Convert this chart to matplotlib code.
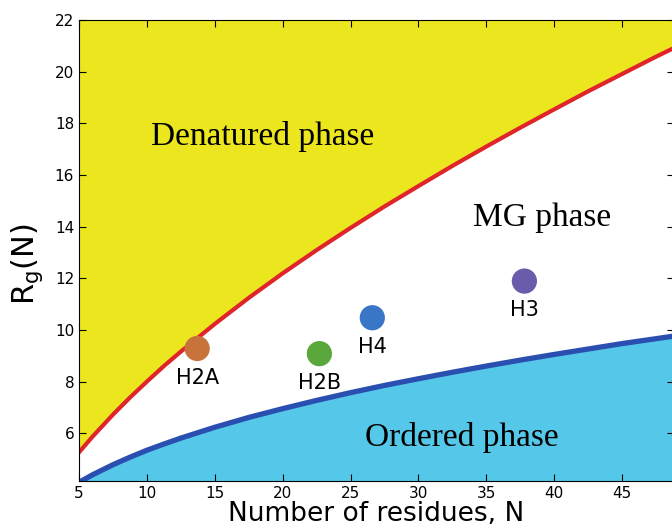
import matplotlib.pyplot as plt

# boundary curves
n_res = [5, 6, 7.5, 8.75, 10, 11.25, 12.5, 15, 17.5, 20, 22.5, 25, 27.5, 30, 32.5,
         35, 37.5, 40, 42.5, 45, 47.5, 50]
rg_denatured = [5.26, 5.87, 6.72, 7.38, 8.00, 8.60, 9.16, 10.23, 11.24, 12.19, 13.09, 13.95,
                14.78, 15.57, 16.35, 17.10, 17.83, 18.54, 19.24, 19.91, 20.58, 21.22]
rg_ordered = [4.10, 4.39, 4.78, 5.07, 5.34, 5.58, 5.81, 6.23, 6.61, 6.95, 7.27, 7.57,
              7.85, 8.11, 8.36, 8.60, 8.83, 9.05, 9.26, 9.47, 9.66, 9.85]

# histone points
names = ['H2A', 'H2B', 'H4', 'H3']
n_points = [13.7, 22.7, 26.6, 37.8]
rg_points = [9.28, 9.08, 10.47, 11.89]
point_colors = ['#c8723c', '#5aa83c', '#3a76c6', '#6a5bab']

ymin, ymax = 4.15, 22

fig = plt.figure(figsize=(6.72, 5.30), dpi=100)
ax = fig.add_axes([0.1176, 0.0925, 0.885, 0.8698])

ax.fill_between(n_res, rg_denatured, ymax, color='#ebe61e', lw=0)
ax.fill_between(n_res, ymin, rg_ordered, color='#55c8ea', lw=0)
ax.plot(n_res, rg_denatured, color='#e0252a', lw=3)
ax.plot(n_res, rg_ordered, color='#2a4fb0', lw=3.8)

ax.scatter(n_points, rg_points, s=330, c=point_colors, zorder=5, lw=0)
for name, x, y in zip(names, n_points, rg_points):
    ax.text(x, y - 0.75, name, ha='center', va='top', fontsize=15)

serif = 'Liberation Serif'
ax.text(18.5, 17.5, 'Denatured phase', ha='center', va='center', fontsize=24, family=serif)
ax.text(39.1, 14.35, 'MG phase', ha='center', va='center', fontsize=24, family=serif)
ax.text(33.2, 5.85, 'Ordered phase', ha='center', va='center', fontsize=24, family=serif)

ax.set_xlim(5, 48.8)
ax.set_ylim(ymin, ymax)
ax.set_xticks(range(5, 50, 5))
ax.set_yticks(range(6, 23, 2))
ax.tick_params(direction='in', top=True, right=True, length=5, labelsize=11)
ax.set_xlabel('Number of residues, N', fontsize=19, labelpad=0)
ax.set_ylabel('R$_\\mathrm{g}$(N)', fontsize=22)
ax.yaxis.set_label_coords(-0.058, 0.47)

fig.savefig('out.png', dpi=100)
